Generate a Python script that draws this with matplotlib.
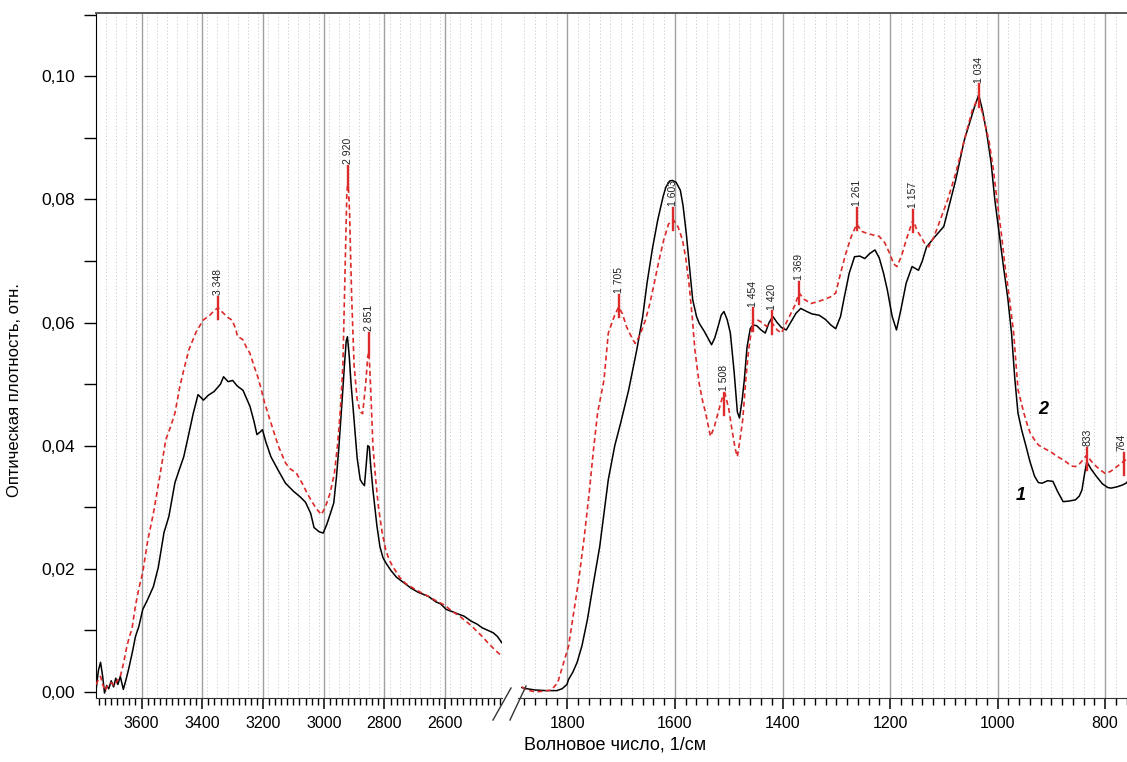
import numpy as np
import matplotlib
matplotlib.use("Agg")
import matplotlib.pyplot as plt
from matplotlib.ticker import MultipleLocator, FuncFormatter
from matplotlib.lines import Line2D

plt.rcParams['font.family'] = ['Liberation Sans', 'DejaVu Sans']

# --- кривая 1 (сплошная), область 3750-2414 ---
wn1_left = [3750, 3742, 3735, 3728, 3722, 3715, 3708, 3700, 3692, 3685, 3678, 3670, 3660, 3650,
            3643, 3630, 3620, 3609, 3596, 3580, 3561, 3545, 3526, 3510, 3490, 3475, 3461, 3444,
            3430, 3414, 3396, 3380, 3361, 3340, 3330, 3315, 3300, 3285, 3266, 3243, 3230, 3220,
            3210, 3202, 3190, 3174, 3150, 3126, 3100, 3078, 3060, 3043, 3032, 3015, 3002, 2990,
            2978, 2967, 2958, 2950, 2940, 2932, 2926, 2922, 2916, 2910, 2902, 2890, 2880, 2873,
            2866, 2860, 2855, 2850, 2845, 2838, 2825, 2815, 2805, 2796, 2780, 2760, 2749, 2730,
            2714, 2690, 2670, 2655, 2630, 2615, 2597, 2575, 2555, 2538, 2515, 2495, 2478, 2460,
            2442, 2428, 2414]
ab1_left = [0.0002, 0.0035, 0.0048, 0.0025, -0.0002, 0.0010, 0.0005, 0.0018, 0.0008, 0.0022,
            0.0012, 0.0025, 0.0004, 0.0022, 0.0036, 0.0065, 0.0090, 0.0106, 0.0134, 0.0150,
            0.0171, 0.0202, 0.0259, 0.0285, 0.0340, 0.0362, 0.0382, 0.0420, 0.0452, 0.0483,
            0.0474, 0.0482, 0.0488, 0.0500, 0.0512, 0.0504, 0.0506, 0.0497, 0.0490, 0.0464,
            0.0440, 0.0418, 0.0422, 0.0426, 0.0405, 0.0382, 0.0360, 0.0339, 0.0326, 0.0317,
            0.0308, 0.0290, 0.0267, 0.0260, 0.0258, 0.0272, 0.0290, 0.0307, 0.0350, 0.0399,
            0.0470, 0.0530, 0.0570, 0.0577, 0.0545, 0.0500, 0.0453, 0.0380, 0.0345, 0.0339,
            0.0335, 0.0370, 0.0400, 0.0398, 0.0365, 0.0328, 0.0270, 0.0236, 0.0218, 0.0210,
            0.0198, 0.0186, 0.0182, 0.0175, 0.0169, 0.0162, 0.0158, 0.0155, 0.0146, 0.0143,
            0.0134, 0.0130, 0.0126, 0.0123, 0.0115, 0.0110, 0.0104, 0.0100, 0.0096, 0.0090,
            0.0080]

# --- кривая 2 (пунктир), область 3750-2414 ---
wn2_left = [3750, 3742, 3735, 3728, 3720, 3710, 3700, 3690, 3680, 3670, 3660, 3650, 3640, 3632,
            3620, 3608, 3596, 3580, 3561, 3540, 3520, 3505, 3490, 3474, 3460, 3444, 3420, 3397,
            3375, 3360, 3348, 3330, 3315, 3302, 3290, 3284, 3275, 3266, 3255, 3243, 3230, 3214,
            3195, 3174, 3150, 3126, 3110, 3091, 3070, 3055, 3040, 3025, 3008, 2995, 2979, 2965,
            2955, 2945, 2937, 2930, 2924, 2920, 2915, 2908, 2900, 2890, 2880, 2872, 2862, 2855,
            2851, 2846, 2838, 2828, 2820, 2808, 2796, 2785, 2773, 2750, 2730, 2714, 2690, 2670,
            2655, 2630, 2610, 2597, 2575, 2555, 2538, 2515, 2495, 2478, 2460, 2440, 2414]
ab2_left = [0.0012, 0.0020, 0.0025, 0.0012, 0.0002, 0.0012, 0.0015, 0.0010, 0.0018, 0.0025,
            0.0045, 0.0070, 0.0090, 0.0101, 0.0140, 0.0170, 0.0194, 0.0245, 0.0290, 0.0350,
            0.0410, 0.0430, 0.0453, 0.0496, 0.0525, 0.0556, 0.0585, 0.0604, 0.0612, 0.0620,
            0.0624, 0.0615, 0.0608, 0.0604, 0.0590, 0.0577, 0.0575, 0.0572, 0.0560, 0.0550,
            0.0530, 0.0507, 0.0470, 0.0437, 0.0400, 0.0372, 0.0362, 0.0356, 0.0338, 0.0323,
            0.0310, 0.0298, 0.0288, 0.0300, 0.0323, 0.0355, 0.0399, 0.0460, 0.0530, 0.0680,
            0.0810, 0.0830, 0.0780, 0.0640, 0.0530, 0.0475, 0.0455, 0.0452, 0.0500, 0.0545,
            0.0552, 0.0500, 0.0399, 0.0340, 0.0301, 0.0260, 0.0231, 0.0215, 0.0204, 0.0186,
            0.0176, 0.0171, 0.0164, 0.0159, 0.0155, 0.0148, 0.0143, 0.0139, 0.0130, 0.0124,
            0.0117, 0.0108, 0.0098, 0.0090, 0.0080, 0.0070, 0.0058]

# --- кривая 1, область 1885-756 ---
wn1_right = [1885, 1875, 1860, 1840, 1820, 1810, 1801, 1798, 1790, 1782, 1773, 1763, 1752, 1740,
             1732, 1724, 1712, 1701, 1686, 1671, 1660, 1652, 1642, 1632, 1622, 1617, 1610, 1605,
             1598, 1590, 1585, 1579, 1573, 1567, 1560, 1555, 1545, 1532, 1526, 1520, 1514, 1509,
             1503, 1497, 1490, 1484, 1480, 1475, 1471, 1466, 1460, 1455, 1448, 1440, 1432, 1425,
             1418, 1410, 1402, 1393, 1385, 1375, 1366, 1355, 1345, 1332, 1320, 1310, 1301, 1292,
             1286, 1276, 1266, 1256, 1247, 1238, 1228, 1220, 1212, 1205, 1196, 1188, 1180, 1170,
             1159, 1147, 1140, 1132, 1116, 1100, 1090, 1078, 1062, 1050, 1043, 1035, 1028, 1020,
             1012, 1005, 997, 989, 981, 974, 968, 962, 955, 947, 940, 931, 924, 917, 907, 897,
             888, 878, 867, 855, 848, 843, 838, 834, 826, 816, 805, 795, 789, 778, 768, 761, 756]
ab1_right = [0.0007, 0.0005, 0.0003, 0.0002, 0.0002, 0.0005, 0.0012, 0.0020, 0.0032, 0.0048,
             0.0075, 0.0117, 0.0175, 0.0236, 0.0290, 0.0345, 0.0400, 0.0437, 0.0491, 0.0556,
             0.0610, 0.0664, 0.0720, 0.0767, 0.0805, 0.0820, 0.0830, 0.0831, 0.0828, 0.0815,
             0.0790, 0.0745, 0.0690, 0.0637, 0.0610, 0.0599, 0.0585, 0.0564, 0.0575, 0.0593,
             0.0612, 0.0618, 0.0605, 0.0583, 0.0520, 0.0455, 0.0445, 0.0475, 0.0507, 0.0560,
             0.0590, 0.0596, 0.0595, 0.0588, 0.0583, 0.0600, 0.0610, 0.0600, 0.0592, 0.0588,
             0.0600, 0.0615, 0.0623, 0.0618, 0.0614, 0.0612, 0.0605, 0.0596, 0.0590, 0.0610,
             0.0637, 0.0680, 0.0707, 0.0708, 0.0704, 0.0712, 0.0718, 0.0705, 0.0680, 0.0653,
             0.0610, 0.0588, 0.0620, 0.0664, 0.0691, 0.0685, 0.0700, 0.0723, 0.0740, 0.0756,
             0.0790, 0.0831, 0.0896, 0.0930, 0.0950, 0.0970, 0.0945, 0.0907, 0.0860, 0.0799,
             0.0745, 0.0691, 0.0640, 0.0583, 0.0510, 0.0453, 0.0425, 0.0399, 0.0375, 0.0350,
             0.0340, 0.0339, 0.0343, 0.0342, 0.0325, 0.0309, 0.0310, 0.0312, 0.0318, 0.0328,
             0.0355, 0.0374, 0.0362, 0.0350, 0.0338, 0.0332, 0.0331, 0.0333, 0.0336, 0.0339,
             0.0344]

# --- кривая 2, область 1885-756 ---
wn2_right = [1885, 1875, 1860, 1845, 1830, 1818, 1809, 1798, 1790, 1779, 1769, 1759, 1752, 1744,
             1738, 1732, 1724, 1713, 1705, 1698, 1690, 1680, 1674, 1665, 1655, 1647, 1640, 1630,
             1621, 1612, 1603, 1594, 1586, 1580, 1574, 1568, 1563, 1555, 1548, 1543, 1534, 1527,
             1520, 1512, 1507, 1500, 1494, 1488, 1484, 1479, 1474, 1468, 1463, 1455, 1448, 1440,
             1430, 1420, 1410, 1402, 1390, 1378, 1369, 1360, 1347, 1335, 1324, 1310, 1301, 1292,
             1282, 1272, 1262, 1252, 1243, 1230, 1220, 1210, 1201, 1193, 1187, 1178, 1170, 1162,
             1157, 1150, 1143, 1135, 1128, 1118, 1109, 1093, 1078, 1062, 1047, 1040, 1035, 1028,
             1016, 1008, 1001, 993, 986, 978, 970, 962, 956, 951, 945, 939, 930, 924, 912, 901,
             890, 878, 870, 863, 855, 848, 840, 834, 826, 816, 808, 800, 790, 781, 772, 765, 756]
ab2_right = [0.0008, 0.0003, 0.0000, 0.0001, 0.0003, 0.0015, 0.0042, 0.0074, 0.0120, 0.0182,
             0.0250, 0.0328, 0.0390, 0.0453, 0.0480, 0.0507, 0.0583, 0.0610, 0.0625, 0.0615,
             0.0593, 0.0575, 0.0566, 0.0580, 0.0604, 0.0630, 0.0658, 0.0700, 0.0734, 0.0760,
             0.0767, 0.0755, 0.0734, 0.0705, 0.0664, 0.0610, 0.0556, 0.0501, 0.0470, 0.0453,
             0.0415, 0.0430, 0.0453, 0.0478, 0.0485, 0.0460, 0.0426, 0.0395, 0.0382, 0.0410,
             0.0442, 0.0510, 0.0556, 0.0604, 0.0605, 0.0601, 0.0594, 0.0600, 0.0588, 0.0583,
             0.0605, 0.0626, 0.0648, 0.0638, 0.0631, 0.0634, 0.0637, 0.0642, 0.0648, 0.0680,
             0.0713, 0.0740, 0.0760, 0.0748, 0.0745, 0.0742, 0.0740, 0.0730, 0.0713, 0.0695,
             0.0691, 0.0710, 0.0734, 0.0755, 0.0767, 0.0750, 0.0740, 0.0728, 0.0723, 0.0740,
             0.0761, 0.0799, 0.0842, 0.0896, 0.0945, 0.0958, 0.0962, 0.0940, 0.0896, 0.0850,
             0.0799, 0.0745, 0.0691, 0.0640, 0.0583, 0.0491, 0.0470, 0.0453, 0.0435, 0.0420,
             0.0408, 0.0401, 0.0395, 0.0390, 0.0383, 0.0377, 0.0372, 0.0367, 0.0366, 0.0370,
             0.0378, 0.0385, 0.0375, 0.0366, 0.0360, 0.0355, 0.0358, 0.0364, 0.0370, 0.0375,
             0.0380]

# отмеченные пики (положение, уровень метки, подпись)
peak_wn = [3348, 2920, 2851, 1705, 1603, 1508, 1454, 1420, 1369, 1261, 1157, 1034, 833, 764]
peak_ab = [0.0623, 0.0836, 0.0565, 0.0627, 0.0768, 0.0468, 0.0605, 0.0600, 0.0648, 0.0768,
           0.0765, 0.0969, 0.0378, 0.0370]
peak_txt = ['3 348', '2 920', '2 851', '1 705', '1 603', '1 508', '1 454', '1 420', '1 369',
            '1 261', '1 157', '1 034', '833', '764']

RED = '#dd2a2a'
W, H = 1127, 762
fig = plt.figure(figsize=(W / 100, H / 100), dpi=100)

y0, y1 = 698, 13
bottom = (H - y0) / H
height = (y0 - y1) / H
ax1 = fig.add_axes([96 / W, bottom, (502 - 96) / W, height])
ax2 = fig.add_axes([518 / W, bottom, (W - 518) / W + 0.002, height])

ax1.set_xlim(3750, 2413)
ax2.set_xlim(1892, 755)

for ax in (ax1, ax2):
    ax.set_ylim(-0.001, 0.1103)
    ax.xaxis.set_major_locator(MultipleLocator(200))
    ax.xaxis.set_minor_locator(MultipleLocator(20))
    ax.tick_params(axis='x', which='major', direction='out', length=8, width=1.1,
                   labelsize=11.5, pad=5, color='black')
    ax.tick_params(axis='x', which='minor', direction='out', length=5, width=1.0, color='black')
    ax.grid(True, axis='x', which='major', color='#a0a0a0', lw=1.0)
    ax.set_axisbelow(True)
    ax.spines['right'].set_visible(False)
    ax.spines['top'].set_visible(False)
    ax.spines['bottom'].set_color('#333333')

# верхняя рамка через весь рисунок
fig.add_artist(Line2D([96 / W, 1.0], [1 - y1 / H, 1 - y1 / H], color='#5a5a5a', lw=1.4))

# пунктирная сетка
for xv in np.arange(3750, 2413, -200 / 6):
    ax1.axvline(xv, color='#c4c4c4', lw=0.7, ls=(0, (1, 2.5)), zorder=0)
ax2.grid(True, axis='x', which='minor', color='#c4c4c4', lw=0.7, ls=(0, (1, 2.5)))

ax1.yaxis.set_major_locator(MultipleLocator(0.02))
ax1.yaxis.set_minor_locator(MultipleLocator(0.01))
ax1.yaxis.set_major_formatter(FuncFormatter(lambda v, p: f"{v:.2f}".replace('.', ',')))
ax1.tick_params(axis='y', which='both', direction='out', length=9, width=1.0,
                labelsize=12.5, pad=6)
ax2.tick_params(axis='y', which='both', left=False, labelleft=False)
ax2.spines['left'].set_visible(False)

ax1.plot(wn1_left, ab1_left, color='black', lw=1.1, zorder=3)
ax1.plot(wn2_left, ab2_left, color=RED, lw=1.2, ls=(0, (3, 2)), zorder=3)
ax2.plot(wn1_right, ab1_right, color='black', lw=1.1, zorder=3)
ax2.plot(wn2_right, ab2_right, color=RED, lw=1.2, ls=(0, (3, 2)), zorder=3)

for w, a, t in zip(peak_wn, peak_ab, peak_txt):
    ax = ax1 if w > 2000 else ax2
    ax.plot([w, w], [a - 0.0018, a + 0.0018], color=RED, lw=1.7, zorder=4)
    tx = w + 5 if w < 780 else w
    ax.text(tx, a + 0.0021, t, rotation=90, ha='center', va='bottom', fontsize=7.5,
            color='#222222', zorder=5)

ax2.text(956, 0.0319, '1', fontsize=13, fontweight='bold', style='italic',
         ha='center', va='center')
ax2.text(915, 0.0458, '2', fontsize=13, fontweight='bold', style='italic',
         ha='center', va='center')

# знак разрыва оси
for (xa, ya, xb, yb) in [(493, 720, 511, 688), (510, 720, 526, 686)]:
    fig.add_artist(Line2D([xa / W, xb / W], [1 - ya / H, 1 - yb / H],
                          color='#333333', lw=1.0))

fig.text(615 / W, 1 - 745 / H, 'Волновое число, 1/см', ha='center', va='center', fontsize=13)
fig.text(15 / W, 1 - 390 / H, 'Оптическая плотность, отн.', ha='center', va='center',
         rotation=90, fontsize=12)

fig.savefig('out.png', dpi=100)
